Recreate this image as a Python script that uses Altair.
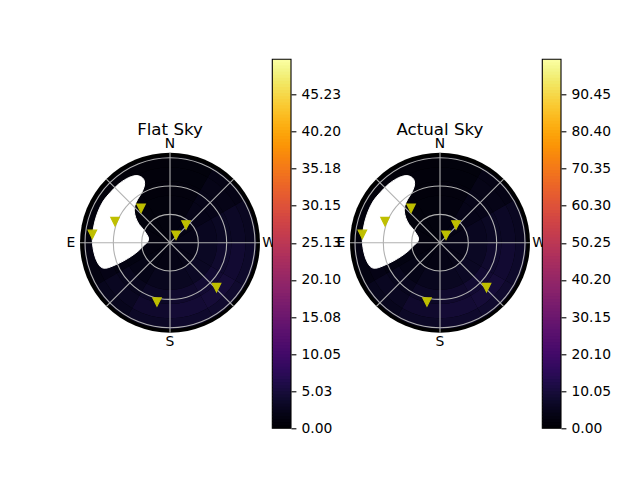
import altair as alt
import numpy as np
import pandas as pd

# ---------------- data ----------------
TITLES = ["Flat Sky", "Actual Sky"]
COMPASS = ["N", "E", "S", "W"]
COMPASS_AZ = [0, 90, 180, 270]
GRID_ZEN = [30, 60, 90]
GRID_AZ = [0, 45, 90, 135]

# triangle markers (zenith angle, azimuth in degrees; N=0, E=90)
MARK_ZEN = [82.7, 62.3, 47.6, 25.3, 10.1, 68.5, 64.3]
MARK_AZ = [83.9, 69.1, 40.1, 317.9, 321.0, 226.0, 167.6]

# masked (white) region outline, offsets in degrees (x toward W, y toward N)
MASK_X = [-38.9, -33.6, -29.3, -27.2, -27.2, -30.0, -34.2, -37.1, -37.8, -36.3,
          -32.8, -28.3, -24.7, -22.8, -23.8, -28.3, -33.6, -40.6, -49.4, -58.2,
          -66.7, -72.3, -76.2, -79.4, -81.5, -82.3, -81.5, -79.4, -75.9, -70.6,
          -63.5, -54.7, -45.9]
MASK_Y = [70.6, 70.9, 68.8, 65.3, 60.0, 52.9, 46.0, 39.6, 33.6, 26.5,
          19.5, 14.2, 8.9, 5.0, 0.7, -3.5, -8.8, -14.1, -19.4, -23.6,
          -26.8, -26.3, -22.0, -14.6, -5.3, 3.6, 12.4, 23.0, 33.6, 44.2,
          52.9, 61.8, 67.8]

# sky brightness on a coarse polar grid (rings inner->outer, 30-degree azimuth sectors)
SKY_ZEN_EDGES = [0, 30, 50, 65, 80, 91.5]
SKY_AZ_EDGES = [0, 30, 60, 90, 120, 150, 180, 210, 240, 270, 300, 330, 360]
FLAT_SKY = [
    [1.0, 1.0, 1.1, 1.2, 1.4, 1.6, 1.8, 2.0, 2.1, 2.0, 1.8, 1.3],
    [0.9, 0.9, 1.0, 1.4, 1.9, 2.5, 2.9, 3.2, 3.2, 2.8, 2.1, 1.2],
    [0.8, 0.8, 1.0, 1.6, 2.5, 3.3, 3.9, 4.3, 4.0, 3.2, 2.1, 1.1],
    [0.8, 0.8, 1.0, 1.8, 2.9, 3.9, 4.5, 4.8, 4.3, 3.3, 2.0, 1.0],
    [0.7, 0.7, 0.9, 1.6, 2.5, 3.3, 3.8, 4.0, 3.7, 2.9, 1.8, 0.9],
]
ACTUAL_SKY = [
    [2.0, 2.0, 2.2, 2.4, 2.8, 3.2, 3.6, 4.0, 4.2, 4.0, 3.6, 2.6],
    [1.8, 1.8, 2.0, 2.8, 3.8, 5.0, 5.8, 6.4, 6.4, 5.6, 4.2, 2.4],
    [1.6, 1.6, 2.0, 3.2, 5.0, 6.6, 7.8, 8.6, 8.0, 6.4, 4.2, 2.2],
    [1.6, 1.6, 2.0, 3.6, 5.8, 7.8, 9.0, 9.6, 8.6, 6.6, 4.0, 2.0],
    [1.4, 1.4, 1.8, 3.2, 5.0, 6.6, 7.6, 8.0, 7.4, 5.8, 3.6, 1.8],
]
SKIES = [FLAT_SKY, ACTUAL_SKY]

CB_MAX = [50.0, 100.0]
CB_TICKS = [
    [0.00, 5.03, 10.05, 15.08, 20.10, 25.13, 30.15, 35.18, 40.20, 45.23],
    [0.00, 10.05, 20.10, 30.15, 40.20, 50.25, 60.30, 70.35, 80.40, 90.45],
]

# ---------------- layout ----------------
FONT = "DejaVu Sans"
PX_PER_DEG = 85 / 90
PW, PH = 231, 369          # panel plot area
PCX, PCY = 110, 183.4      # polar centre inside the panel (px)
CBX0 = 212.3               # colorbar left edge inside the panel (px)
XDOM = [-PCX / PX_PER_DEG, (PW - PCX) / PX_PER_DEG]
YDOM = [-(PH - PCY) / PX_PER_DEG, PCY / PX_PER_DEG]
EDGE_ZEN = 95.3            # outer edge of the polar axes
LABEL_ZEN = 105.0
TITLE_Y = 118.9
GRID_COLOR = "#b0b0b0"
TRI_DOWN = "M-1,-1L1,-1L0,1Z"


def panel(i):
    xs = alt.Scale(domain=XDOM, nice=False, zero=False)
    ys = alt.Scale(domain=YDOM, nice=False, zero=False)
    rs = alt.Scale(type="linear", domain=[0, 90], range=[0, 85], nice=False, zero=True)
    ts = alt.Scale(domain=[0, 360], range=[2 * np.pi, 0], nice=False, zero=False)
    cs = alt.Scale(scheme="inferno", domain=[0, CB_MAX[i]], nice=False, zero=False)

    def X(f):
        return alt.X(f, type="quantitative", scale=xs, axis=None)

    def Y(f):
        return alt.Y(f, type="quantitative", scale=ys, axis=None)

    def arc_enc():
        return dict(
            x=X("cx"), y=Y("cy"),
            theta=alt.Theta("a0:Q", scale=ts, stack=False),
            theta2="a1:Q",
            radius=alt.Radius("r0:Q", scale=rs),
            radius2="r1:Q",
        )

    disk_df = pd.DataFrame({"cx": [0], "cy": [0], "a0": [0], "a1": [360],
                            "r0": [EDGE_ZEN], "r1": [0]})
    disk = alt.Chart(disk_df).mark_arc(color="black").encode(**arc_enc())

    rows = []
    sky = SKIES[i]
    for ri in range(len(SKY_ZEN_EDGES) - 1):
        for ai in range(len(SKY_AZ_EDGES) - 1):
            rows.append({"cx": 0, "cy": 0,
                         "a0": SKY_AZ_EDGES[ai], "a1": SKY_AZ_EDGES[ai + 1],
                         "r0": SKY_ZEN_EDGES[ri + 1], "r1": SKY_ZEN_EDGES[ri],
                         "v": sky[ri][ai]})
    heat = alt.Chart(pd.DataFrame(rows)).mark_arc().encode(
        **arc_enc(), color=alt.Color("v:Q", scale=cs, legend=None))

    mask_df = pd.DataFrame({"x": MASK_X, "y": MASK_Y, "k": range(len(MASK_X))})
    mask = alt.Chart(mask_df).mark_line(
        fill="white", color="white", strokeWidth=1, interpolate="cardinal-closed"
    ).encode(x=X("x"), y=Y("y"), order="k:Q")

    ring_df = pd.DataFrame({"cx": 0, "cy": 0, "a0": 0, "a1": 360,
                            "r0": GRID_ZEN, "r1": 0})
    rings = alt.Chart(ring_df).mark_arc(
        filled=False, stroke=GRID_COLOR, strokeWidth=1.1).encode(**arc_enc())

    az = np.radians(GRID_AZ)
    spoke_df = pd.DataFrame({"x": -EDGE_ZEN * np.sin(az), "y": EDGE_ZEN * np.cos(az),
                             "x2": EDGE_ZEN * np.sin(az), "y2": -EDGE_ZEN * np.cos(az)})
    spokes = alt.Chart(spoke_df).mark_rule(color=GRID_COLOR, strokeWidth=1.1).encode(
        x=X("x"), y=Y("y"), x2="x2:Q", y2="y2:Q")

    maz = np.radians(MARK_AZ)
    mzen = np.array(MARK_ZEN)
    mk_df = pd.DataFrame({"x": -mzen * np.sin(maz), "y": mzen * np.cos(maz)})
    marks = alt.Chart(mk_df).mark_point(
        shape=TRI_DOWN, filled=True, size=72, color="#bfbf00", opacity=1,
        stroke="#bfbf00", strokeWidth=1.2
    ).encode(x=X("x"), y=Y("y"))

    caz = np.radians(COMPASS_AZ)
    lab_df = pd.DataFrame({"x": -LABEL_ZEN * np.sin(caz), "y": LABEL_ZEN * np.cos(caz),
                           "t": COMPASS})
    labels = alt.Chart(lab_df).mark_text(
        font=FONT, fontSize=13.9, color="black", align="center", baseline="middle"
    ).encode(x=X("x"), y=Y("y"), text="t:N")

    ttl_df = pd.DataFrame({"x": [0], "y": [TITLE_Y], "t": [TITLES[i]]})
    title = alt.Chart(ttl_df).mark_text(
        font=FONT, fontSize=16.67, color="black", align="center", baseline="middle"
    ).encode(x=X("x"), y=Y("y"), text="t:N")

    polar = alt.layer(disk, heat, mask, rings, spokes, marks, labels, title)

    # colorbar
    stops = np.linspace(0, CB_MAX[i], 121)
    step = stops[1] - stops[0]
    cb_df = pd.DataFrame({"lo": stops[:-1],
                          "hi": np.minimum(stops[1:] + 0.5 * step, CB_MAX[i]),
                          "mid": (stops[:-1] + stops[1:]) / 2})
    cys = alt.Scale(domain=[0, CB_MAX[i]], nice=False, zero=False)
    cax = alt.Axis(orient="right", values=CB_TICKS[i], format=".2f", title=None,
                   domain=False, grid=False, ticks=True, tickSize=4.9, tickWidth=1.1,
                   tickColor="black", labelPadding=5, labelFont=FONT,
                   labelFontSize=13.9, labelColor="black")
    grad = alt.Chart(cb_df).mark_rect().encode(
        x=alt.value(CBX0), x2=alt.value(PW),
        y=alt.Y("lo:Q", scale=cys, axis=cax), y2="hi:Q",
        color=alt.Color("mid:Q", scale=cs, legend=None))
    frame = alt.Chart(pd.DataFrame({"lo": [0], "hi": [CB_MAX[i]]})).mark_rect(
        filled=False, stroke="black", strokeWidth=1.1
    ).encode(x=alt.value(CBX0), x2=alt.value(PW),
             y=alt.Y("lo:Q", scale=cys, axis=cax), y2="hi:Q")
    cbar = alt.layer(grad, frame)

    return alt.layer(polar, cbar).resolve_scale(y="independent").properties(
        width=PW, height=PH)


chart = alt.hconcat(panel(0), panel(1), spacing=39, bounds="flush").resolve_scale(
    x="independent", y="independent", color="independent",
    theta="independent", radius="independent"
).properties(
    padding={"left": 52, "top": 50.3, "right": 5, "bottom": 5}
).configure_view(strokeWidth=0)

chart.save("out.html", embed_options={"renderer": "svg", "actions": False})
